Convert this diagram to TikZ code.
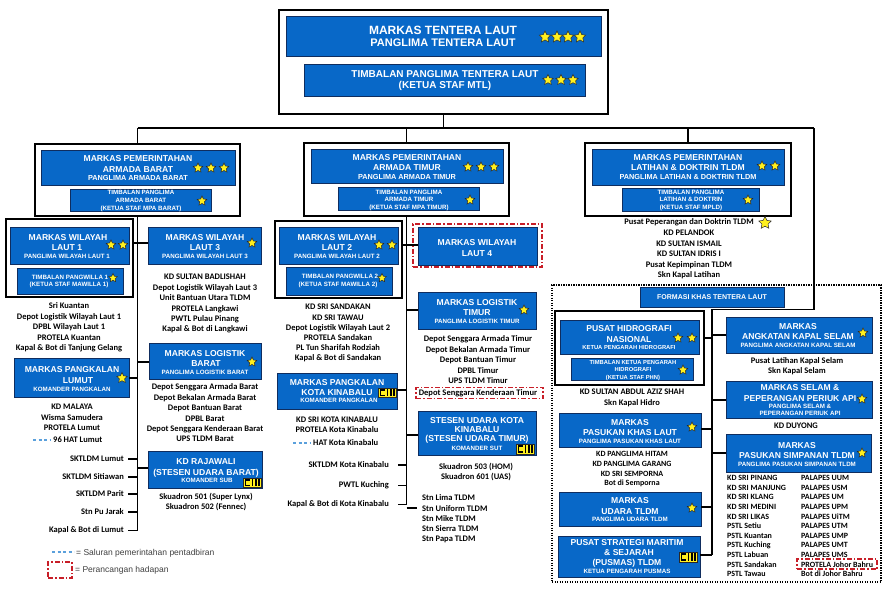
\documentclass[tikz,border=0pt]{standalone}
\usepackage{fontspec}
\setmainfont{Liberation Sans}
\newfontfamily\calfont{Carlito}
\usetikzlibrary{fit}
\definecolor{navB}{RGB}{8,104,200}
\definecolor{navE}{RGB}{15,45,95}
\definecolor{starY}{RGB}{255,240,30}
\definecolor{starE}{RGB}{40,40,40}
\definecolor{redC}{RGB}{200,30,40}
\definecolor{admB}{RGB}{90,160,220}
\newcommand\mylist[6]{\foreach \t [count=\i from 0] in {#6} \node[#1] (#2\i) at (#3,{#4+#5*\i}) {\t};}
\begin{document}
\begin{tikzpicture}[x=1pt,y=-1pt,
 bb/.style={draw=navE, fill=navB, line width=0.7pt, inner sep=0pt},
 ob/.style={draw=black, line width=1.8pt, inner sep=0pt},
 cn/.style={draw=black, line width=1.4pt},
 redb/.style={draw=redC, line width=1.2pt, dash pattern=on 5pt off 2pt on 1.5pt off 2pt, inner sep=0pt},
 bs/.style={inner sep=0pt, anchor=base},
 hA/.style={bs, text=white, font=\bfseries\fontsize{12}{12}\selectfont, yshift=-4.3pt},
 hB/.style={bs, text=white, font=\bfseries\fontsize{11}{11}\selectfont, yshift=-3.9pt},
 hC/.style={bs, text=white, font=\bfseries\fontsize{10}{10}\selectfont, yshift=-3.6pt},
 hd/.style={bs, text=white, font=\bfseries\fontsize{8.6}{9}\selectfont, yshift=-3.1pt},
 hf/.style={bs, text=white, font=\bfseries\fontsize{7}{8}\selectfont, yshift=-2.5pt},
 sb/.style={bs, text=white, font=\bfseries\fontsize{7.3}{8}\selectfont, yshift=-2.6pt},
 sw/.style={bs, text=white, font=\bfseries\fontsize{6.2}{7}\selectfont, yshift=-2.2pt},
 sx/.style={bs, text=white, font=\bfseries\fontsize{5.8}{6}\selectfont, yshift=-2.1pt},
 ls/.style={bs, font=\calfont\bfseries\fontsize{8.5}{10}\selectfont, yshift=-2.9pt},
 lt/.style={bs, font=\calfont\bfseries\fontsize{8}{10}\selectfont, yshift=-2.7pt},
 lg/.style={inner sep=0pt, anchor=base west, font=\fontsize{8.5}{10}\selectfont, text=black!75, yshift=-3pt},
 adm/.style={draw=admB, line width=1.1pt, dash pattern=on 3pt off 2.5pt},
 ystar/.pic={\draw[fill=starY, draw=starE, line width=0.5pt, line join=miter]
   (270:#1) -- (306:0.5*#1) -- (342:#1) -- (18:0.5*#1) -- (54:#1) -- (90:0.5*#1)
   -- (126:#1) -- (162:0.5*#1) -- (198:#1) -- (234:0.5*#1) -- cycle;},
 insig/.pic={\draw[fill=starY, draw=starE, line width=0.4pt] (-9,-4.7) rectangle (9,4.7);
   \draw[line width=1.6pt] (-2.2,-2.8) -- (-6.5,-2.8) -- (-6.5,2.8) -- (-2.2,2.8);
   \foreach \xx in {0.6,3.8,7} \fill (\xx-0.8,-3.8) rectangle (\xx+0.8,3.8);}
]
\useasboundingbox (0,0) rectangle (885,606);
\fill[white] (0,0) rectangle (885,606);

% ---------------- TOP
\node[ob, fit={(279,10)(608,114)}] (mtl) {};
\node[bb, fit={(286,16)(601,56)}] (mtlA) {};
\node[hA] (t1) at (443,30) {MARKAS TENTERA LAUT};
\node[hB] (t2) at (443,43) {PANGLIMA TENTERA LAUT};
\foreach \xx in {545,557,568,580} \pic at (\xx,37) {ystar=6};
\node[bb, fit={(304,64)(585,96)}] (mtlB) {};
\node[hC] (t3) at (445,74) {TIMBALAN PANGLIMA TENTERA LAUT};
\node[hC] (t4) at (445,85) {(KETUA STAF MTL)};
\foreach \xx in {548,561,573} \pic at (\xx,80) {ystar=5.5};

\coordinate (jl) at (137.5,128);
\coordinate (jr) at (814,128);
\coordinate (bl) at (137.5,530);
\coordinate (bm) at (406.5,504);
\coordinate (rk) at (814,309.5);
\coordinate (rs) at (712,555);

% ---------------- ARMADA BARAT
\node[ob, fit={(35,144)(240,216)}] (mpab) {};
\node[bb, fit={(41,150)(235,185)}] (mpabA) {};
\node[hd] (ab1) at (138,158) {MARKAS PEMERINTAHAN};
\node[hd] (ab2) at (138,169) {ARMADA BARAT};
\node[sb] (ab3) at (138,178) {PANGLIMA ARMADA BARAT};
\foreach \xx in {198,211,224} \pic at (\xx,168) {ystar=5};
\node[bb, fit={(70,189)(211,211)}] (mpabB) {};
\node[sw] (ab4) at (141,192) {TIMBALAN PANGLIMA};
\node[sw] (ab5) at (141,200) {ARMADA BARAT};
\node[sw] (ab6) at (141,208) {(KETUA STAF MPA BARAT)};
\pic at (202,201) {ystar=5};

% Wilayah Laut 1
\node[ob, fit={(6,219)(133,297)}] (wl1o) {};
\node[bb, fit={(10,227)(129,264)}] (wl1) {};
\node[hd] (w11) at (68,237) {MARKAS WILAYAH};
\node[hd] (w12) at (67,247) {LAUT 1};
\node[sw] (w13) at (67,256) {PANGLIMA WILAYAH LAUT 1};
\pic at (111,245) {ystar=5}; \pic at (123,245) {ystar=5};
\node[bb, fit={(17,268)(123,294)}] (wl1b) {};
\node[sw] (w14) at (70,277) {TIMBALAN PANGWILLA 1};
\node[sw] (w15) at (69,284) {(KETUA STAF MAWILLA 1)};
\pic at (113,278) {ystar=4.5};
\mylist{ls}{lx}{69}{306}{10.4}{Sri Kuantan, Depot Logistik Wilayah Laut 1, DPBL Wilayah Laut 1, PROTELA Kuantan, Kapal \& Bot di Tanjung Gelang}

% Wilayah Laut 3
\node[bb, fit={(148,227)(261,264)}] (wl3) {};
\node[hd] (w31) at (205,237) {MARKAS WILAYAH};
\node[hd] (w32) at (205,247) {LAUT 3};
\node[sw] (w33) at (205,256) {PANGLIMA WILAYAH LAUT 3};
\pic at (252,243) {ystar=5};
\mylist{ls}{ly}{205}{277}{10.4}{KD SULTAN BADLISHAH, Depot Logistik Wilayah Laut 3, Unit Bantuan Utara TLDM, PROTELA Langkawi, PWTL Pulau Pinang, Kapal \& Bot di Langkawi}

% Pangkalan Lumut
\node[bb, fit={(14,358)(129,397)}] (lum) {};
\node[hd] (lu1) at (72,369) {MARKAS PANGKALAN};
\node[hd] (lu2) at (78,380) {LUMUT};
\node[sw] (lu3) at (72,389) {KOMANDER PANGKALAN};
\pic at (122,378) {ystar=5.5};
\mylist{ls}{lz}{72}{407}{10.2}{KD MALAYA, Wisma Samudera, PROTELA Lumut}
\node[ls, anchor=base west] (hat1) at (53,440) {96 HAT Lumut};
\draw[adm] ([xshift=-20pt]hat1.west) -- ([xshift=-3pt]hat1.west);

% Logistik Barat
\node[bb, fit={(149,343)(261,379)}] (lgb) {};
\node[hd] (lb1) at (205,353) {MARKAS LOGISTIK};
\node[hd] (lb2) at (206,363) {BARAT};
\node[sw] (lb3) at (205,372) {PANGLIMA LOGISTIK BARAT};
\pic at (252,362) {ystar=5};
\mylist{ls}{lw}{205}{387}{10.4}{Depot Senggara Armada Barat, Depot Bekalan Armada Barat, Depot Bantuan Barat, DPBL Barat, Depot Senggara Kenderaan Barat, UPS TLDM Barat}

% KD Rajawali
\node[bb, fit={(148,451)(262,488)}] (raj) {};
\node[hd] (rj1) at (206,461) {KD RAJAWALI};
\node[hd] (rj2) at (206,472) {(STESEN UDARA BARAT)};
\node[sw] (rj3) at (207,480.5) {KOMANDER SUB};
\pic at (252,482.5) {insig};
\mylist{ls}{lv}{206}{497}{10}{Skuadron 501 (Super Lynx), Skuadron 502 (Fennec)}

% SKTLDM ticks
\foreach \t/\yy [count=\i] in {SKTLDM Lumut/459, SKTLDM Sitiawan/477, SKTLDM Parit/494, Stn Pu Jarak/512, Kapal \& Bot di Lumut/530}{
  \node[ls, anchor=base east] (sk\i) at (124,\yy) {\t};
  \draw[cn] ([xshift=4pt]sk\i.east) -- (sk\i.east -| bl);
}

% left connectors
\draw[cn] (mtl.south) -- (mtl.south |- jl);
\draw[cn] (jl) -- (jr);
\draw[cn] (jl) -- (mpab.north);
\draw[cn] (mpab.south) -- (bl);
\draw[cn] (wl1o.east |- 0,243) -- (wl3.west |- 0,243);
\draw[cn] (lum.east |- 0,378) -- (bl |- 0,378);
\draw[cn] (bl |- 0,362) -- (lgb.west |- 0,362);
\draw[cn] (bl |- 0,468) -- (raj.west |- 0,468);

% legend
\draw[adm] (52,552) -- (74,552) coordinate (lg1);
\node[lg] (leg1) at (76,552) {= Saluran pemerintahan pentadbiran};
\node[redb, fit={(48,562)(72,578)}] (legr) {};
\node[lg] (leg2) at (75,569) {= Perancangan hadapan};

% ---------------- ARMADA TIMUR
\node[ob, fit={(304,143)(509,216)}] (mpat) {};
\node[bb, fit={(311,149)(503,183)}] (mpatA) {};
\node[hd] (at1) at (407,157) {MARKAS PEMERINTAHAN};
\node[hd] (at2) at (407,167) {ARMADA TIMUR};
\node[sb] (at3) at (407,177) {PANGLIMA ARMADA TIMUR};
\foreach \xx in {468,481,494} \pic at (\xx,167) {ystar=5};
\node[bb, fit={(338,187)(479,210)}] (mpatB) {};
\node[sw] (at4) at (409,192) {TIMBALAN PANGLIMA};
\node[sw] (at5) at (409,199.5) {ARMADA TIMUR};
\node[sw] (at6) at (409,207) {(KETUA STAF MPA TIMUR)};
\pic at (470,200) {ystar=5};

% Wilayah Laut 2
\node[ob, fit={(275,221)(402,298)}] (wl2o) {};
\node[bb, fit={(279,227)(398,264)}] (wl2) {};
\node[hd] (w21) at (337,237) {MARKAS WILAYAH};
\node[hd] (w22) at (337,247) {LAUT 2};
\node[sw] (w23) at (337,256) {PANGLIMA WILAYAH LAUT 2};
\pic at (379,245) {ystar=5}; \pic at (392,245) {ystar=5};
\node[bb, fit={(286,267)(392,295)}] (wl2b) {};
\node[sw] (w24) at (340,276) {TIMBALAN PANGWILLA 2};
\node[sw] (w25) at (338,284) {(KETUA STAF MAWILLA 2)};
\pic at (382,278) {ystar=4.5};
\mylist{ls}{lm}{338}{307}{10.2}{KD SRI SANDAKAN, KD SRI TAWAU, Depot Logistik Wilayah Laut 2, PROTELA Sandakan, PL Tun Sharifah Rodziah, Kapal \& Bot di Sandakan}

% Wilayah Laut 4
\node[redb, fit={(413,224)(542,267)}] (wl4r) {};
\node[bb, fit={(418,227)(537,265)}] (wl4) {};
\node[hd] (w41) at (477,242) {MARKAS WILAYAH};
\node[hd] (w42) at (477,253) {LAUT 4};

% Pangkalan KK
\node[bb, fit={(277,373)(397,409)}] (pkk) {};
\node[hd] (kk1) at (337,382) {MARKAS PANGKALAN};
\node[hd] (kk2) at (337,392) {KOTA KINABALU};
\node[sw] (kk3) at (339,400.5) {KOMANDER PANGKALAN};
\pic at (387,392.5) {insig};
\mylist{ls}{lk}{337}{420}{10}{KD SRI KOTA KINABALU, PROTELA Kota Kinabalu}
\node[ls, anchor=base west] (hat2) at (313,443) {HAT Kota Kinabalu};
\draw[adm] ([xshift=-20pt]hat2.west) -- ([xshift=-3pt]hat2.west);

% Logistik Timur
\node[bb, fit={(418,292)(536,329)}] (lgt) {};
\node[hd] (lt1) at (477,302) {MARKAS LOGISTIK};
\node[hd] (lt2) at (477,312) {TIMUR};
\node[sw] (lt3) at (477,321) {PANGLIMA LOGISTIK TIMUR};
\pic at (524,310) {ystar=5};
\mylist{ls}{lq}{478}{339}{10.4}{Depot Senggara Armada Timur, Depot Bekalan Armada Timur, Depot Bantuan Timur, DPBL Timur, UPS TLDM Timur}
\node[redb, fit={(416,387.5)(543,398.5)}] (dskr) {};
\node[ls] (dsk) at (478,393) {Depot Senggara Kenderaan Timur};

% Stesen Udara KK
\node[bb, fit={(418,411)(536,455)}] (suk) {};
\node[hd] (su1) at (477,420) {STESEN UDARA KOTA};
\node[hd] (su2) at (477,429.5) {KINABALU};
\node[hd] (su3) at (477,438.5) {(STESEN UDARA TIMUR)};
\node[sw] (su4) at (477,448) {KOMANDER SUT};
\pic at (525,449) {insig};
\mylist{ls}{lp}{476}{467}{10}{Skuadron 503 (HOM), Skuadron 601 (UAS)}

\foreach \t/\yy [count=\i] in {SKTLDM Kota Kinabalu/465, PWTL Kuching/485, Kapal \& Bot di Kota Kinabalu/504}{
  \node[ls, anchor=base east] (sm\i) at (389,\yy) {\t};
  \draw[cn] ([xshift=9pt]sm\i.east) -- (sm\i.east -| bm);
}
\node[ls, anchor=base west] (st0) at (422,498) {Stn Lima TLDM};
\mylist{ls, anchor=base west}{st}{422}{508.2}{10.2}{Stn Uniform TLDM, Stn Mike TLDM, Stn Sierra TLDM, Stn Papa TLDM}
\draw[cn] (st0.west -| bm) -- ([xshift=-5pt]st0.west);

% middle connectors
\draw[cn] (mpat.north |- jl) -- (mpat.north);
\draw[cn] (mpat.south) -- (bm);
\draw[cn] (wl2o.east |- 0,245) -- (wl4.west |- 0,245);
\draw[cn] (bm |- 0,310) -- (lgt.west |- 0,310);
\draw[cn] (pkk.east |- 0,390) -- (bm |- 0,390);
\draw[cn] (bm |- 0,435) -- (suk.west |- 0,435);

% ---------------- LATIHAN & DOKTRIN
\node[ob, fit={(585,143)(791,216)}] (mpld) {};
\node[bb, fit={(592,149)(784,185)}] (mpldA) {};
\node[hd] (ld1) at (688,157) {MARKAS PEMERINTAHAN};
\node[hd] (ld2) at (688,167) {LATIHAN \& DOKTRIN TLDM};
\node[sb] (ld3) at (688,177) {PANGLIMA LATIHAN \& DOKTRIN TLDM};
\pic at (762,166) {ystar=5}; \pic at (775,166) {ystar=5};
\node[bb, fit={(622,188)(759,211)}] (mpldB) {};
\node[sw] (ld4) at (691,192) {TIMBALAN PANGLIMA};
\node[sw] (ld5) at (691,199.5) {LATIHAN \& DOKTRIN};
\node[sw] (ld6) at (691,207) {(KETUA STAF MPLD)};
\pic at (748,200) {ystar=5};
\mylist{ls}{ll}{689}{222}{10.6}{Pusat Peperangan dan Doktrin TLDM, KD PELANDOK, KD SULTAN ISMAIL, KD SULTAN IDRIS I, Pusat Kepimpinan TLDM, Skn Kapal Latihan}
\pic at (765,223) {ystar=6.5};
\draw[cn] (mpld.north |- jl) -- (mpld.north);

% ---------------- FORMASI KHAS
\node[draw=black, line width=1.3pt, dash pattern=on 1.3pt off 1.2pt, inner sep=0pt, fit={(552,285)(881,582)}] (fkb) {};
\node[bb, fit={(640,287)(784,307)}] (fk) {};
\node[hf] (fk1) at (712,297) {FORMASI KHAS TENTERA LAUT};
\draw[cn] (jr) -- (rk) -- (rk -| rs) -- (rs);

% Hidrografi
\node[ob, fit={(555,311)(704,385)}] (hido) {};
\node[bb, fit={(560,320)(699,354)}] (hid) {};
\node[hd] (hd1) at (629,328) {PUSAT HIDROGRAFI};
\node[hd] (hd2) at (629,339) {NASIONAL};
\node[sx] (hd3) at (629,347) {KETUA PENGARAH HIDROGRAFI};
\pic at (678,338) {ystar=5}; \pic at (692,338) {ystar=5};
\node[bb, fit={(571,358)(693,380)}] (hidb) {};
\node[sx] (hd4) at (633,362) {TIMBALAN KETUA PENGARAH};
\node[sx] (hd5) at (633,369.5) {HIDROGRAFI};
\node[sx] (hd6) at (633,377) {(KETUA STAF PHN)};
\pic at (683,370) {ystar=5};
\mylist{ls}{lh}{632}{392}{11}{KD SULTAN ABDUL AZIZ SHAH, Skn Kapal Hidro}

% Pasukan Khas Laut
\node[bb, fit={(559,413)(701,447)}] (pkl) {};
\node[hd] (pk1) at (630,422) {MARKAS};
\node[hd] (pk2) at (630,432) {PASUKAN KHAS LAUT};
\node[sw] (pk3) at (630,441) {PANGLIMA PASUKAN KHAS LAUT};
\pic at (692,427) {ystar=5};
\mylist{lt}{lr}{632}{454}{9.7}{KD PANGLIMA HITAM, KD PANGLIMA GARANG, KD SRI SEMPORNA, Bot di Semporna}

% Udara
\node[bb, fit={(559,492)(701,526)}] (udr) {};
\node[hd] (ud1) at (630,500) {MARKAS};
\node[hd] (ud2) at (630,511) {UDARA TLDM};
\node[sw] (ud3) at (630,519) {PANGLIMA UDARA TLDM};
\pic at (692,508) {ystar=5};

% Pusmas
\node[bb, fit={(558,536)(700,577)}] (pus) {};
\node[hd] (ps1) at (627,542) {PUSAT STRATEGI MARITIM};
\node[hd] (ps2) at (629,552) {\& SEJARAH};
\node[hd] (ps3) at (627,562) {(PUSMAS) TLDM};
\node[sw] (ps4) at (627,571) {KETUA PENGARAH PUSMAS};
\pic at (688,557) {insig};

% Kapal Selam
\node[bb, fit={(726,317)(872,353)}] (aks) {};
\node[hd] (ks1) at (798,326) {MARKAS};
\node[hd] (ks2) at (798,336) {ANGKATAN KAPAL SELAM};
\node[sw] (ks3) at (798,345) {PANGLIMA ANGKATAN KAPAL SELAM};
\pic at (863,333) {ystar=5};
\mylist{ls}{lj}{797}{361}{9.5}{Pusat Latihan Kapal Selam, Skn Kapal Selam}

% Selam & Peperangan
\node[bb, fit={(726,381)(872,418)}] (spp) {};
\node[hd] (sp1) at (800,387) {MARKAS SELAM \&};
\node[hd] (sp2) at (800,398) {PEPERANGAN PERIUK API};
\node[sw] (sp3) at (800,406) {PANGLIMA SELAM \&};
\node[sw] (sp4) at (800,413) {PEPERANGAN PERIUK API};
\pic at (862,399) {ystar=5};
\node[ls] (kdd) at (796,426) {KD DUYONG};

% Pasukan Simpanan
\node[bb, fit={(726,434)(871,472)}] (psp) {};
\node[hd] (pp1) at (797,445) {MARKAS};
\node[hd] (pp2) at (797,455) {PASUKAN SIMPANAN TLDM};
\node[sw] (pp3) at (797,464) {PANGLIMA PASUKAN SIMPANAN TLDM};
\pic at (862,453) {ystar=5};
\mylist{lt, anchor=base west}{la}{727}{478}{9.6}{KD SRI PINANG, KD SRI MANJUNG, KD SRI KLANG, KD SRI MEDINI, KD SRI LIKAS, PSTL Setiu, PSTL Kuantan, PSTL Kuching, PSTL Labuan, PSTL Sandakan, PSTL Tawau}
\mylist{lt, anchor=base west}{lb}{801}{478}{9.6}{PALAPES UUM, PALAPES USM, PALAPES UM, PALAPES UPM, PALAPES UiTM, PALAPES UTM, PALAPES UMP, PALAPES UMT, PALAPES UMS, PROTELA Johor Bahru, Bot di Johor Bahru}
\node[redb, fit={(797,559)(877,569)}] (pjbr) {};

% right connectors
\draw[cn] (hido.east |- 0,338) -- (rs |- 0,338);
\draw[cn] (pkl.east |- 0,429) -- (rs |- 0,429);
\draw[cn] (udr.east |- 0,507) -- (rs |- 0,507);
\draw[cn] (pus.east |- 0,555) -- (rs);
\draw[cn] (rs |- 0,335) -- (aks.west |- 0,335);
\draw[cn] (rs |- 0,400) -- (spp.west |- 0,400);
\draw[cn] (rs |- 0,453) -- (psp.west |- 0,453);
\end{tikzpicture}
\end{document}
